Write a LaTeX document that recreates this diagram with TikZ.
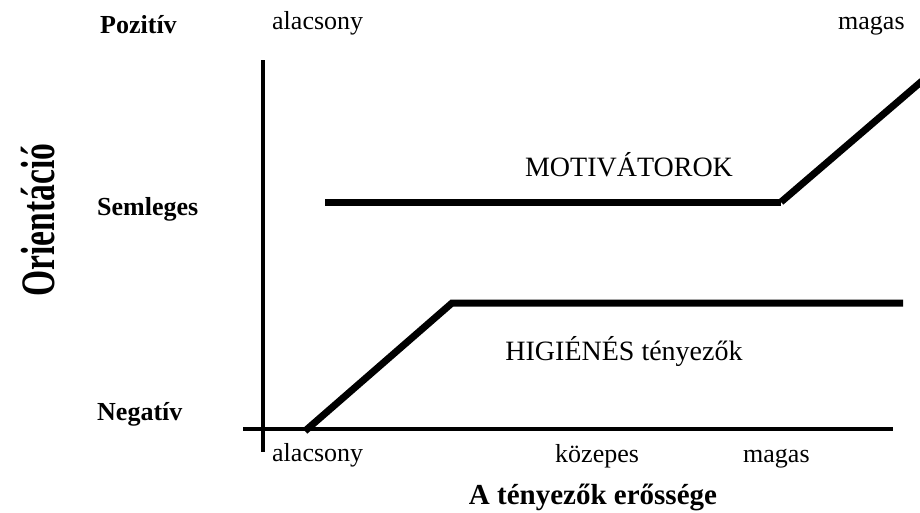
\documentclass[tikz,border=0pt]{standalone}
\usepackage{fontspec}
\setmainfont{Liberation Serif}
\begin{document}
\begin{tikzpicture}[x=1pt,y=-1pt,
  axis/.style={line width=4.6pt},
  curve/.style={line width=7pt},
  lbl/.style={inner sep=0pt,anchor=base west,font=\fontsize{26}{30}\selectfont},
  blbl/.style={lbl,font=\fontsize{26}{30}\selectfont\bfseries},
  mid/.style={inner sep=0pt,anchor=base,font=\fontsize{28}{32}\selectfont}]
\useasboundingbox (0,0) rectangle (920,512);
% axes
\coordinate (vtop) at (263,60);
\coordinate (vbot) at (263,452);
\coordinate (hleft) at (243,429);
\coordinate (hright) at (893,429);
\draw[axis] (vtop) -- (vbot);
\draw[axis] (hleft) -- (hright);
% hygiene
\coordinate (h1) at (305,431);
\coordinate (h2) at (452,303);
\coordinate (h3) at (903,303);
\draw[curve] (h1) -- (h2) -- (h3);
% motivators
\coordinate (m1) at (325,202);
\coordinate (m2) at (781,202);
\coordinate (m3) at (922,81);
\draw[curve] (m1) -- (m2);
\draw[curve] (m2) -- (m3);
% labels
\node[blbl] (poz) at (100,33) {Pozitív};
\node[lbl] (alt) at (272,29) {alacsony};
\node[lbl] (mat) at (838,29) {magas};
\node[blbl] (sem) at (97,215) {Semleges};
\node[blbl] (neg) at (97,420) {Negatív};
\node[mid] (mot) at (629,176) {MOTIVÁTOROK};
\node[mid] (hig) at (624,360) {HIGIÉNÉS tényezők};
\node[inner sep=0pt,rotate=90,anchor=base] (ori) at (54,220)
  {\scalebox{0.7}[1]{\fontsize{48}{54}\selectfont\bfseries Orientáció}};
\node[lbl] (alb) at (272,461) {alacsony};
\node[lbl] (kob) at (555,462) {közepes};
\node[lbl] (mab) at (743,462) {magas};
\node[mid,font=\fontsize{29}{33}\selectfont\bfseries] (ten) at (593,504) {A tényezők erőssége};
\end{tikzpicture}
\end{document}
